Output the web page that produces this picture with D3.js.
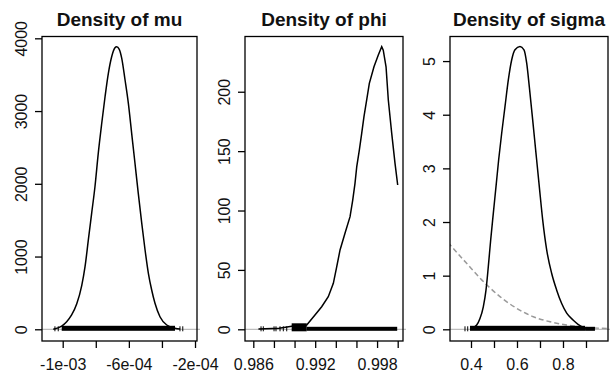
<!DOCTYPE html>
<html>
<head>
<meta charset="utf-8">
<script src="https://cdn.jsdelivr.net/npm/d3@7"></script>
<style>
  body { margin: 0; background: #fff; }
  text { font-family: "Liberation Sans", Arial, sans-serif; fill: #111; }
</style>
</head>
<body>
<div id="chart"></div>
<script>
// ---- data ----
const titles = ["Density of mu", "Density of phi", "Density of sigma"];

// mu
const muX = [-1.057e-3, -1.006e-3, -9.76e-4, -9.46e-4, -9.15e-4, -8.85e-4, -8.65e-4, -8.45e-4, -8.25e-4,
  -8.05e-4, -7.85e-4, -7.64e-4, -7.44e-4, -7.24e-4, -7.04e-4, -6.84e-4, -6.74e-4, -6.58e-4, -6.43e-4,
  -6.23e-4, -6.03e-4, -5.83e-4, -5.63e-4, -5.43e-4, -5.22e-4, -5.02e-4, -4.82e-4, -4.62e-4, -4.42e-4,
  -4.12e-4, -3.71e-4, -3.21e-4, -2.9e-4];
const muDens = [0, 45, 105, 197, 350, 600, 860, 1228, 1594, 1960, 2419, 2832, 3197, 3519, 3747, 3871, 3885,
  3849, 3725, 3427, 3106, 2694, 2282, 1869, 1457, 1090, 770, 540, 357, 173, 59, 14, 3];
const muTicks = [-1e-3, -8e-4, -6e-4, -4e-4, -2e-4];
const muTickLabels = ["-1e-03", "", "-6e-04", "", "-2e-04"];
const muYTicks = [0, 1000, 2000, 3000, 4000];
const muRugTicks = [-1.047e-3, -1.027e-3, -2.91e-4, -2.74e-4];
const muRugBands = [[-1.006e-3, -3.21e-4]];
const muRugThin = [];

// phi
const phiX = [0.9865, 0.9885, 0.98988, 0.99118, 0.99198, 0.99263, 0.99327, 0.99376, 0.99409, 0.99441,
  0.99489, 0.99538, 0.99564, 0.99586, 0.99603, 0.99628, 0.99651, 0.99673, 0.99699, 0.99725, 0.9977,
  0.99812, 0.99845, 0.9986, 0.99887, 0.99909, 0.99942, 0.99974, 1.0];
const phiDens = [0.3, 0.8, 2.8, 3.6, 12, 19, 27.4, 38.7, 52.7, 66.8, 80.8, 94.8, 108.8, 122.9, 136.9,
  150.9, 165, 179, 193, 207, 221, 231, 238, 235, 221, 193, 165, 139.7, 121.5];
const phiTicks = [0.986, 0.988, 0.990, 0.992, 0.994, 0.996, 0.998, 1.000];
const phiTickLabels = ["0.986", "", "", "0.992", "", "", "0.998", ""];
const phiYTicks = [0, 50, 100, 150, 200];
const phiRugTicks = [0.98675, 0.98697, 0.98801, 0.9882, 0.98859, 0.98891, 0.98924];
const phiRugBands = [[0.98972, 0.99118]];
const phiRugThin = [[0.99118, 0.99995]];

// sigma
const sigmaX = [0.403, 0.4248, 0.439, 0.4535, 0.4652, 0.4753, 0.4855, 0.497, 0.5087, 0.5203, 0.5333,
  0.5478, 0.5623, 0.5768, 0.5913, 0.613, 0.6304, 0.6422, 0.6536, 0.6683, 0.6826, 0.697, 0.7117, 0.7291,
  0.7509, 0.7726, 0.7943, 0.8161, 0.8448, 0.8813, 0.903];
const sigmaDens = [0.02, 0.08, 0.2, 0.42, 0.73, 1.17, 1.66, 2.16, 2.66, 3.16, 3.65, 4.15, 4.65, 5.02,
  5.21, 5.27, 5.21, 4.96, 4.52, 3.9, 3.28, 2.66, 2.04, 1.48, 1.04, 0.73, 0.48, 0.3, 0.17, 0.05, 0.02];
const sigmaPriorX = [0.3, 0.381, 0.468, 0.526, 0.599, 0.671, 0.744, 0.816, 0.888, 0.95, 1.0];
const sigmaPriorDens = [1.62, 1.23, 0.83, 0.61, 0.39, 0.235, 0.14, 0.08, 0.037, 0.022, 0.015];
const sigmaTicks = [0.4, 0.5, 0.6, 0.7, 0.8, 0.9];
const sigmaTickLabels = ["0.4", "", "0.6", "", "0.8", ""];
const sigmaYTicks = [0, 1, 2, 3, 4, 5];
const sigmaRugTicks = [0.3739, 0.3857];
const sigmaRugBands = [[0.3957, 0.896]];
const sigmaRugThin = [[0.896, 0.939]];

// ---- layout ----
const W = 610, H = 376;
const boxTop = 36.5, boxBottom = 341;
const panels = [
  { left: 42, right: 197, xDom: [-1.1252e-3, -1.88e-4], yDom: [-161, 4025],
    x: muX, d: muDens, ticks: muTicks, labels: muTickLabels, yTicks: muYTicks,
    rugTicks: muRugTicks, rugBands: muRugBands, rugThin: muRugThin, curve: d3.curveMonotoneX },
  { left: 245, right: 403, xDom: [0.985195, 1.000514], yDom: [-9.85, 246.5],
    x: phiX, d: phiDens, ticks: phiTicks, labels: phiTickLabels, yTicks: phiYTicks,
    rugTicks: phiRugTicks, rugBands: phiRugBands, rugThin: phiRugThin, curve: d3.curveLinear },
  { left: 450, right: 608, xDom: [0.3087, 0.9957], yDom: [-0.218, 5.458],
    x: sigmaX, d: sigmaDens, ticks: sigmaTicks, labels: sigmaTickLabels, yTicks: sigmaYTicks,
    rugTicks: sigmaRugTicks, rugBands: sigmaRugBands, rugThin: sigmaRugThin, curve: d3.curveMonotoneX,
    priorX: sigmaPriorX, priorD: sigmaPriorDens }
];

const svg = d3.select("#chart").append("svg")
  .attr("width", W).attr("height", H);
svg.append("rect").attr("width", W).attr("height", H).attr("fill", "#fff");

panels.forEach(function(p, i) {
  const x = d3.scaleLinear().domain(p.xDom).range([p.left, p.right]);
  const y = d3.scaleLinear().domain(p.yDom).range([boxBottom, boxTop]);
  const g = svg.append("g");

  g.append("clipPath").attr("id", "clip" + i)
    .append("rect").attr("x", p.left).attr("y", boxTop)
    .attr("width", p.right - p.left).attr("height", boxBottom - boxTop);

  // title
  g.append("text")
    .attr("x", (p.left + p.right) / 2).attr("y", 26)
    .attr("text-anchor", "middle")
    .attr("font-size", 19).attr("font-weight", "bold")
    .text(titles[i]);

  // zero line
  g.append("line")
    .attr("x1", p.left).attr("x2", p.right + 3)
    .attr("y1", y(0)).attr("y2", y(0))
    .attr("stroke", "#bdbdbd").attr("stroke-width", 1.2);

  const plot = g.append("g").attr("clip-path", `url(#clip${i})`);

  // prior (dashed gray)
  if (p.priorX) {
    plot.append("path")
      .datum(d3.zip(p.priorX, p.priorD))
      .attr("fill", "none")
      .attr("stroke", "#9a9a9a")
      .attr("stroke-width", 1.5)
      .attr("stroke-dasharray", "5,3")
      .attr("d", d3.line().curve(d3.curveMonotoneX)
        .x(function(d) { return x(d[0]); })
        .y(function(d) { return y(d[1]); }));
  }

  // density
  plot.append("path")
    .datum(d3.zip(p.x, p.d))
    .attr("fill", "none")
    .attr("stroke", "#000")
    .attr("stroke-width", 1.5)
    .attr("d", d3.line().curve(p.curve)
      .x(function(d) { return x(d[0]); })
      .y(function(d) { return y(d[1]); }));

  // rug along zero
  const y0 = y(0);
  plot.selectAll(".rt").data(p.rugTicks).enter().append("line")
    .attr("x1", function(d) { return x(d); }).attr("x2", function(d) { return x(d); })
    .attr("y1", y0 - 3).attr("y2", y0 + 2)
    .attr("stroke", "#000").attr("stroke-width", 1);
  plot.selectAll(".rb").data(p.rugBands).enter().append("rect")
    .attr("x", function(d) { return x(d[0]); })
    .attr("width", function(d) { return x(d[1]) - x(d[0]); })
    .attr("y", i === 1 ? y0 - 6 : y0 - 3.5).attr("height", i === 1 ? 8 : 5)
    .attr("fill", "#000");
  plot.selectAll(".rn").data(p.rugThin).enter().append("rect")
    .attr("x", function(d) { return x(d[0]); })
    .attr("width", function(d) { return x(d[1]) - x(d[0]); })
    .attr("y", y0 - 2.5).attr("height", 4)
    .attr("fill", "#000");

  // box
  g.append("rect")
    .attr("x", p.left).attr("y", boxTop)
    .attr("width", p.right - p.left).attr("height", boxBottom - boxTop)
    .attr("fill", "none").attr("stroke", "#000").attr("stroke-width", 1.3);

  // x axis
  const xa = g.append("g").attr("transform", `translate(0,${boxBottom})`)
    .call(d3.axisBottom(x).tickValues(p.ticks).tickSize(7).tickSizeOuter(0).tickPadding(10.5)
      .tickFormat(function(d, k) { return p.labels[k]; }));
  xa.select(".domain").remove();
  xa.selectAll(".tick line").attr("stroke", "#000").attr("stroke-width", 1.3);
  xa.selectAll(".tick text").attr("font-size", 16).attr("font-family", null).attr("fill", "#111");

  // y axis, labels rotated like base R
  const ya = g.append("g").attr("transform", `translate(${p.left},0)`)
    .call(d3.axisLeft(y).tickValues(p.yTicks).tickSize(7).tickSizeOuter(0)
      .tickFormat(function(d) { return String(d); }));
  ya.select(".domain").remove();
  ya.selectAll(".tick line").attr("stroke", "#000").attr("stroke-width", 1.3);
  ya.selectAll(".tick text")
    .attr("font-size", 16).attr("font-family", null).attr("fill", "#111")
    .attr("x", 0).attr("y", -15).attr("dy", null)
    .attr("text-anchor", "middle")
    .attr("transform", "rotate(-90)");
});
</script>
</body>
</html>
